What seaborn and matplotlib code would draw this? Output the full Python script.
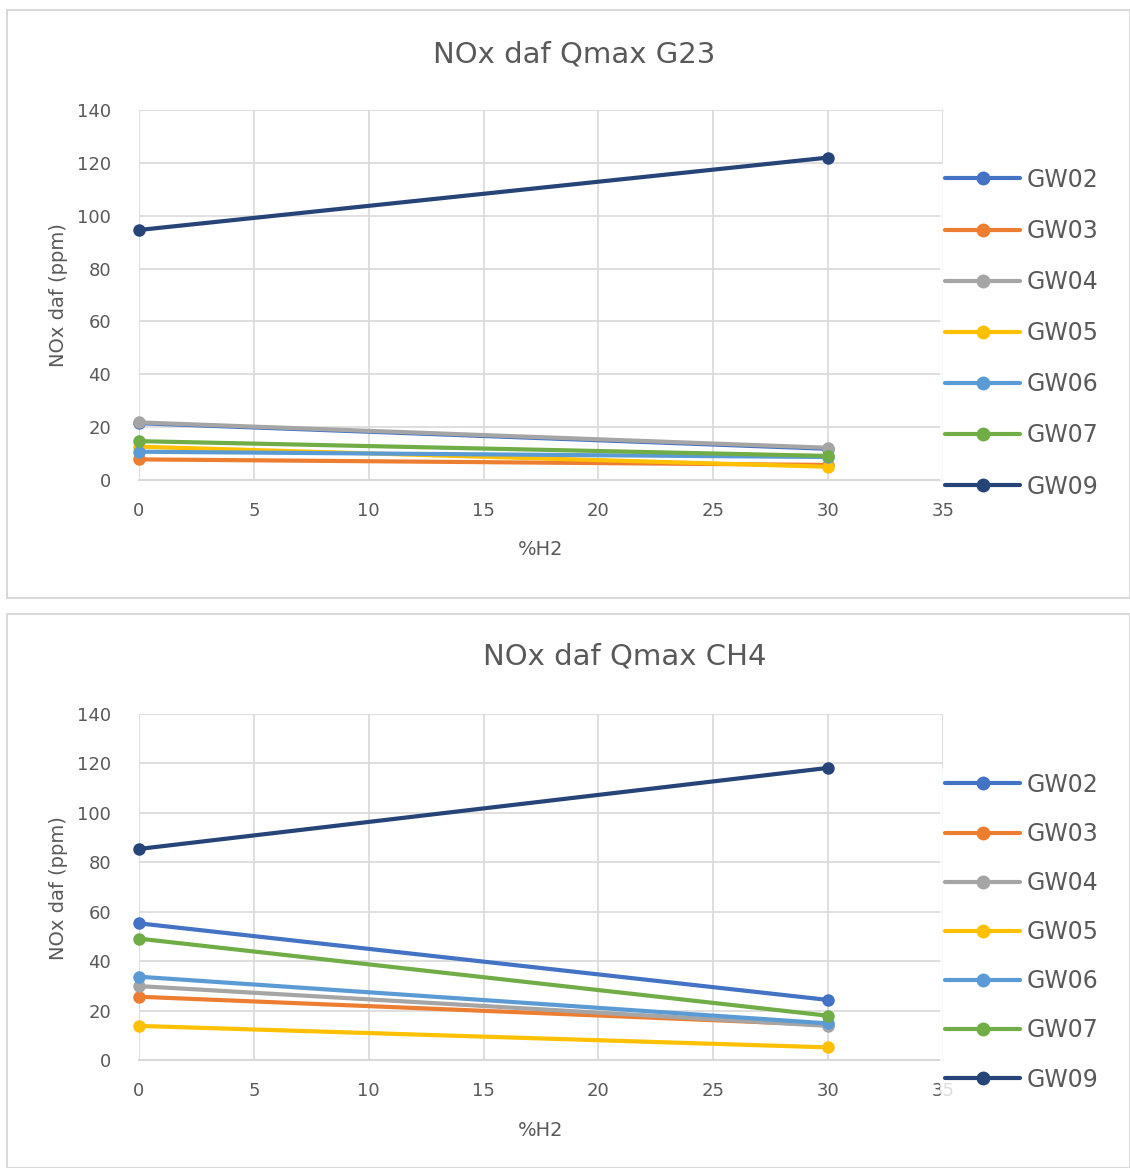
import numpy as np
import pandas as pd
import matplotlib
matplotlib.use("Agg")
import matplotlib.pyplot as plt
from matplotlib.patches import Rectangle
import seaborn as sns

# %H2 levels tested
h2_levels = [0, 30]
series_names = ["GW02", "GW03", "GW04", "GW05", "GW06", "GW07", "GW09"]

# NOx daf (ppm), Qmax with G23
g23_gw02 = [21.5, 11.8]
g23_gw03 = [7.8, 5.7]
g23_gw04 = [21.8, 12.2]
g23_gw05 = [12.6, 5.0]
g23_gw06 = [10.7, 8.7]
g23_gw07 = [14.7, 9.1]
g23_gw09 = [94.6, 122.0]

# NOx daf (ppm), Qmax with CH4
ch4_gw02 = [55.3, 24.3]
ch4_gw03 = [25.6, 14.2]
ch4_gw04 = [29.9, 13.8]
ch4_gw05 = [13.8, 5.1]
ch4_gw06 = [33.7, 14.8]
ch4_gw07 = [49.1, 17.9]
ch4_gw09 = [85.4, 118.2]

x_ticks = [0, 5, 10, 15, 20, 25, 30, 35]
y_ticks = [0, 20, 40, 60, 80, 100, 120, 140]

colors = ["#4472C4", "#ED7D31", "#A5A5A5", "#FFC000", "#5B9BD5", "#70AD47", "#264478"]
palette = dict(zip(series_names, colors))
TXT = "#595959"
GRID = "#D9D9D9"


def long_frame(values):
    rows = []
    for name, ys in zip(series_names, values):
        for x, y in zip(h2_levels, ys):
            rows.append({"%H2": x, "NOx": y, "serie": name})
    return pd.DataFrame(rows)


g23 = long_frame([g23_gw02, g23_gw03, g23_gw04, g23_gw05, g23_gw06, g23_gw07, g23_gw09])
ch4 = long_frame([ch4_gw02, ch4_gw03, ch4_gw04, ch4_gw05, ch4_gw06, ch4_gw07, ch4_gw09])

sns.set_theme(style="white")
plt.rcParams["font.family"] = ["DejaVu Sans"]

W, H = 1130, 1168
fig = plt.figure(figsize=(W / 100, H / 100), dpi=100)
fig.patch.set_facecolor("white")


def fx(px):
    return px / W


def fy(py):
    return 1 - py / H


# chart area frames
for (x0, y0, x1, y1) in [(7, 10, 1130, 598), (7, 614, 1130, 1168)]:
    fig.add_artist(Rectangle((fx(x0), fy(y1)), fx(x1 - x0), (y1 - y0) / H,
                             transform=fig.transFigure, fill=False,
                             edgecolor=GRID, linewidth=1.5))

panels = [
    dict(df=g23, title="NOx daf Qmax G23", top=110, bottom=480, tx=574, ty=55,
         ylab_y=295, xlab_y=550, leg_top=163, leg_space=1.15),
    dict(df=ch4, title="NOx daf Qmax CH4", top=714, bottom=1060, tx=625, ty=657,
         ylab_y=888, xlab_y=1130, leg_top=768, leg_space=1.065),
]

for p in panels:
    ax = fig.add_axes([fx(139), fy(p["bottom"]), fx(943 - 139), (p["bottom"] - p["top"]) / H])
    sns.lineplot(data=p["df"], x="%H2", y="NOx", hue="serie", hue_order=series_names,
                 palette=palette, marker="o", markersize=9, markeredgewidth=0,
                 linewidth=3, ax=ax, legend=True)
    ax.set_xlim(0, 35)
    ax.set_ylim(0, 140)
    ax.set_xticks(x_ticks)
    ax.set_yticks(y_ticks)
    ax.grid(True, color=GRID, linewidth=1.2)
    ax.set_axisbelow(True)
    for s in ["top", "right", "left"]:
        ax.spines[s].set_visible(False)
    ax.spines["bottom"].set_color(GRID)
    ax.spines["bottom"].set_linewidth(1.5)
    ax.tick_params(axis="both", length=0, labelsize=13, labelcolor=TXT)
    ax.tick_params(axis="y", pad=20)
    ax.tick_params(axis="x", pad=16)
    ax.set_xlabel("")
    ax.set_ylabel("")
    for line in ax.get_lines():
        line.set_clip_on(False)

    fig.text(fx(p["tx"]), fy(p["ty"]), p["title"], ha="center", va="center",
             fontsize=21, color=TXT)
    fig.text(fx(58), fy(p["ylab_y"]), "NOx daf (ppm)", ha="center", va="center",
             rotation=90, fontsize=14, color=TXT)
    fig.text(fx(541), fy(p["xlab_y"]), "%H2", ha="center", va="center",
             fontsize=14, color=TXT)

    handles, labels = ax.get_legend_handles_labels()
    leg = ax.legend(handles, labels, loc="upper left",
                    bbox_to_anchor=(fx(940), fy(p["leg_top"])),
                    bbox_transform=fig.transFigure, frameon=True,
                    fontsize=17, handlelength=3.2, handletextpad=0.25,
                    labelspacing=p["leg_space"], borderpad=0.2, borderaxespad=0)
    leg.get_frame().set_facecolor("white")
    leg.get_frame().set_edgecolor("none")
    for t in leg.get_texts():
        t.set_color(TXT)
    for h in leg.legend_handles:
        h.set_linewidth(3)
        h.set_markersize(10)

fig.savefig("out.png", dpi=100, facecolor="white")
